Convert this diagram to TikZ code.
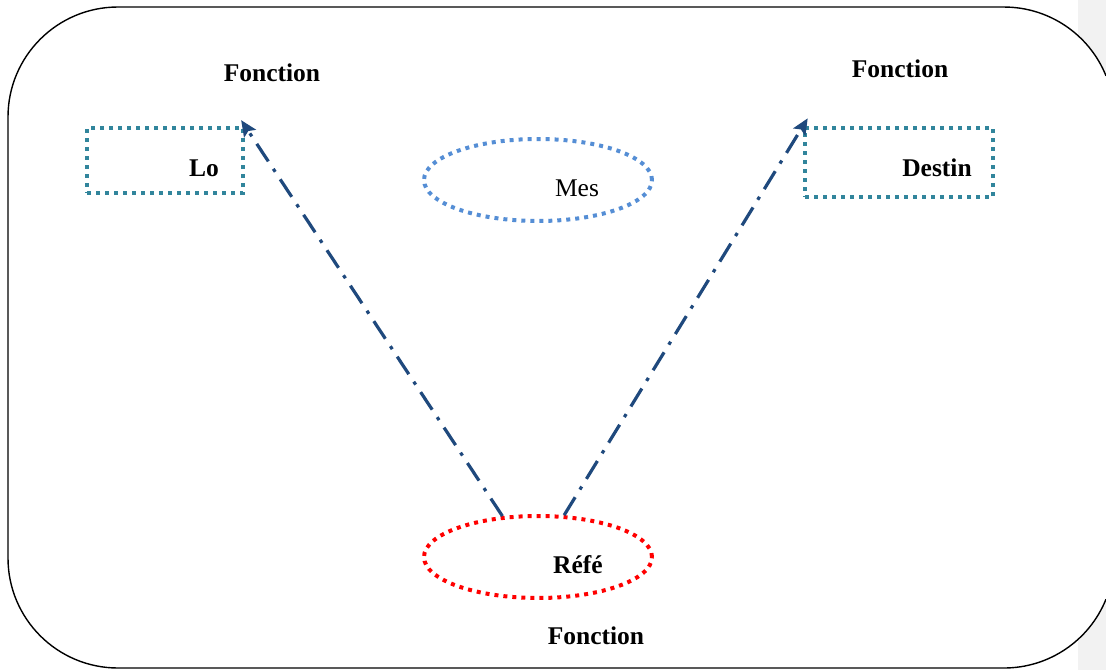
\documentclass[tikz,border=0pt]{standalone}
\usepackage{fontspec}
\setmainfont{Liberation Serif}
\usetikzlibrary{shapes.geometric,arrows.meta}
\definecolor{tealbox}{HTML}{31859C}
\definecolor{blueell}{HTML}{558ED5}
\definecolor{redell}{HTML}{FF0000}
\definecolor{arrowblue}{HTML}{1F497D}
\definecolor{stripgray}{HTML}{F2F2F2}
\tikzset{
  dotline/.style={line width=4pt, dash pattern=on 4pt off 5pt},
  boxnode/.style={draw=tealbox, dotline, rectangle, inner sep=0pt},
  ellnode/.style={dotline, ellipse, inner sep=0pt, minimum width=228pt, minimum height=82pt},
  txt/.style={font=\fontsize{25.5}{30}\selectfont, inner sep=0pt},
  btxt/.style={font=\fontsize{25.5}{30}\selectfont\bfseries, inner sep=0pt},
  dasharrow/.style={draw=arrowblue, line width=3.2pt, dash pattern=on 21pt off 9pt on 3.5pt off 9pt,
     -{Stealth[length=16pt,width=14pt,inset=3pt,fill=arrowblue]}},
  frame/.style={line width=1.4pt}
}
\begin{document}
\begin{tikzpicture}[x=1pt,y=-1pt]
\useasboundingbox (0,0) rectangle (1106,670);
\fill[white] (0,0) rectangle (1106,670);
\fill[stripgray] (1078,0) rectangle (1106,670);
\fill[white] (1106,75.82) arc[start angle=22,end angle=90,radius=110pt] -- (118,7)
  arc[start angle=90,end angle=180,radius=110pt] -- (8,558)
  arc[start angle=180,end angle=270,radius=110pt] -- (1004,668)
  arc[start angle=270,end angle=338,radius=110pt] -- cycle;
\draw[frame] (1106,75.82) arc[start angle=22,end angle=90,radius=110pt] -- (118,7)
  arc[start angle=90,end angle=180,radius=110pt] -- (8,558)
  arc[start angle=180,end angle=270,radius=110pt] -- (1004,668)
  arc[start angle=270,end angle=338,radius=110pt];

% boxes
\node[boxnode, minimum width=156pt, minimum height=65pt] (lo) at (165,160.5) {};
\node[btxt] (lotxt) at (204,168) {Lo};
\node[boxnode, minimum width=188pt, minimum height=69pt] (destin) at (899,162.5) {};
\node[btxt] (destintxt) at (937,168) {Destin};

% ellipses
\node[ellnode, draw=blueell] (mes) at (538,180) {};
\node[txt] (mestxt) at (577,188) {Mes};
\node[ellnode, draw=redell] (refe) at (538,557) {};
\node[btxt] (refetxt) at (578,565) {Réfé};

% labels
\node[btxt] (fl) at (272,73) {Fonction};
\node[btxt] (fr) at (900,69) {Fonction};
\node[btxt] (fb) at (596,636) {Fonction};

% arrows
\draw[dasharrow, shorten >=-7pt] (refe.131) -- (lo.north east);
\draw[dasharrow, shorten >=-9pt] (refe.58) -- (destin.north west);
\end{tikzpicture}
\end{document}
